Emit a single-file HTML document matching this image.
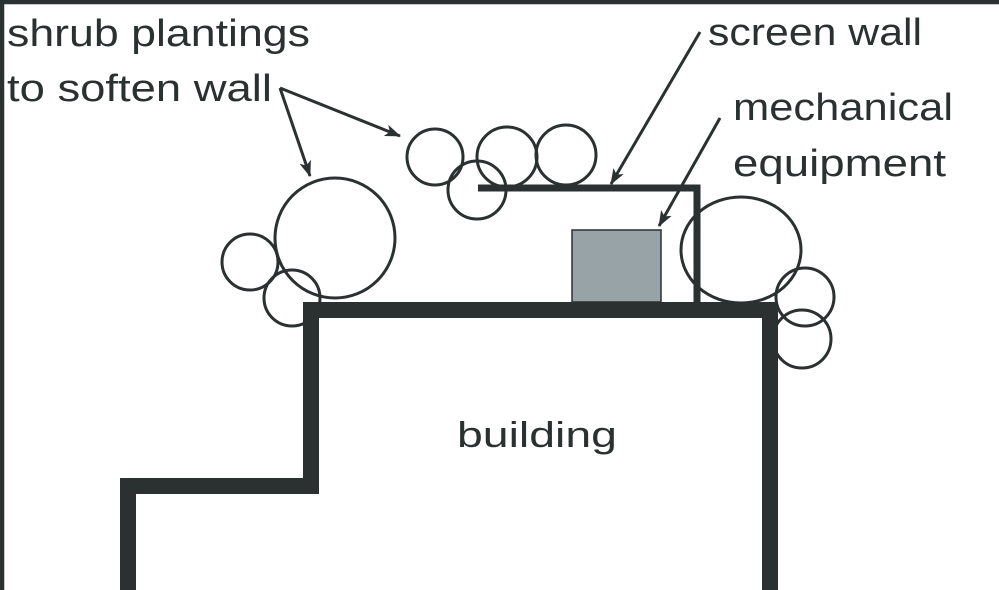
<!DOCTYPE html>
<html><head><style>
html,body{margin:0;padding:0;background:#fff;}
svg{display:block;}
text{font-family:"Liberation Sans",sans-serif;fill:#2b3131;}
</style></head><body>
<svg width="999" height="590" viewBox="0 0 999 590" xmlns="http://www.w3.org/2000/svg">
<defs>
<marker id="ah" markerWidth="16" markerHeight="12" refX="15" refY="6" orient="auto" markerUnits="userSpaceOnUse">
<path d="M0,0 L16,6 L0,12 L4,6 z" fill="#2b3131"/>
</marker>
</defs>
<rect x="2" y="2" width="1000" height="600" fill="none" stroke="#2b3131" stroke-width="4.5"/>
<g fill="none" stroke="#2b3131" stroke-width="3">
<circle cx="335" cy="238" r="60"/>
<circle cx="250" cy="262" r="28"/>
<circle cx="292" cy="298" r="28"/>
<circle cx="435" cy="157" r="28"/>
<circle cx="477" cy="190" r="29"/>
<circle cx="507" cy="157" r="30"/>
<circle cx="566" cy="155" r="30"/>
<ellipse cx="741" cy="250" rx="60" ry="53"/>
<circle cx="805" cy="297" r="29"/>
<circle cx="802" cy="339" r="29"/>
</g>
<rect x="572" y="230" width="89" height="72" fill="#97a3a6" stroke="#2b3131" stroke-width="1.5"/>
<path d="M478 188 H697 V302" fill="none" stroke="#2b3131" stroke-width="7"/>
<path d="M128 590 V486 H311 V310 H770 V590" fill="none" stroke="#2b3131" stroke-width="16"/>
<g stroke="#2b3131" stroke-width="3" fill="none">
<line x1="280" y1="88" x2="310" y2="176" marker-end="url(#ah)"/>
<line x1="280" y1="88" x2="400" y2="136" marker-end="url(#ah)"/>
<line x1="700" y1="32" x2="611" y2="184" marker-end="url(#ah)"/>
<line x1="720" y1="118" x2="659" y2="226" marker-end="url(#ah)"/>
</g>
<text x="7" y="46" font-size="38" textLength="303" lengthAdjust="spacingAndGlyphs">shrub plantings</text>
<text x="7" y="101" font-size="38" textLength="265" lengthAdjust="spacingAndGlyphs">to soften wall</text>
<text x="708" y="45" font-size="38" textLength="214" lengthAdjust="spacingAndGlyphs">screen wall</text>
<text x="733" y="120" font-size="38" textLength="220" lengthAdjust="spacingAndGlyphs">mechanical</text>
<text x="733" y="176" font-size="38" textLength="213" lengthAdjust="spacingAndGlyphs">equipment</text>
<text x="457" y="447" font-size="36" textLength="160" lengthAdjust="spacingAndGlyphs">building</text>
</svg>
</body></html>
